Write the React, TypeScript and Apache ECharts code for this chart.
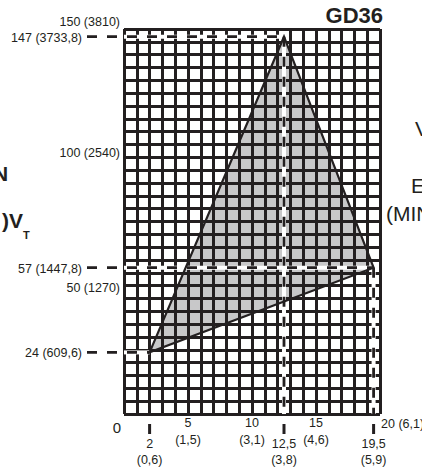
import React, { useEffect, useRef } from 'react';
import * as echarts from 'echarts';

// ---- data ----
const xMin = 0;
const xMax = 20;
const xStep = 1;
const yMin = 0;
const yMax = 150;
const yStep = 5;

const xTickValues = [5, 10, 15];
const xTickMm = ['1,5', '3,1', '4,6'];
const xEndLabel = '20 (6,1)';
const originLabel = '0';

const yTickValues = [150, 100, 50];
const yTickMm = ['3810', '2540', '1270'];

const vertexX = [2, 12.5, 19.5];
const vertexY = [24, 147, 57];
const vertexXText = ['2', '12,5', '19,5'];
const vertexXMm = ['0,6', '3,8', '5,9'];
const vertexYText = ['24', '147', '57'];
const vertexYMm = ['609,6', '3733,8', '1447,8'];

const titleText = 'GD36';

// ---- style ----
const INK = '#231f20';
const FILL = '#c8c8c9';
const FONT = '"Liberation Sans", Arial, sans-serif';
const yTickNudge = [-7, -4, 2];

function txt(x: number, y: number, text: string, align: string, size = 12.5, weight = 'normal') {
  return {
    type: 'text',
    x,
    y,
    style: {
      text,
      fill: INK,
      fontSize: size,
      fontFamily: FONT,
      fontWeight: weight,
      align,
      verticalAlign: 'middle',
    },
  };
}

export default function App() {
  const ref = useRef<HTMLDivElement>(null);
  useEffect(() => {
    if (!ref.current) return;
    const chart = echarts.init(ref.current, null, { renderer: 'svg' });
    const option: any = {
      animation: false,
      backgroundColor: '#ffffff',
      title: {
        text: titleText,
        right: 39,
        top: 4,
        padding: 0,
        textStyle: { fontSize: 22, fontWeight: 'bold', color: INK, fontFamily: FONT },
      },
      grid: { left: 124, top: 29, width: 256, height: 385 },
      xAxis: {
        type: 'value',
        min: xMin,
        max: xMax,
        interval: xStep,
        z: 3,
        axisLine: { show: false },
        axisTick: { show: false },
        axisLabel: { show: false },
        splitLine: { show: true, lineStyle: { color: INK, width: 3 } },
      },
      yAxis: {
        type: 'value',
        min: yMin,
        max: yMax,
        interval: yStep,
        z: 3,
        axisLine: { show: false },
        axisTick: { show: false },
        axisLabel: { show: false },
        splitLine: { show: true, lineStyle: { color: INK, width: 3 } },
      },
      graphic: [
        txt(-7, 173, 'N', 'left', 21, 'bold'),
        txt(23, 220, ')V', 'right', 21, 'bold'),
        txt(23, 235, 'T', 'left', 11, 'bold'),
        txt(415, 128, 'V', 'left', 21),
        txt(411, 185, 'E', 'left', 21),
        txt(386, 213, '(MIN', 'left', 21),
      ],
      series: [
        {
          type: 'custom',
          name: 'envelope-fill',
          z: 1,
          clip: false,
          data: [[0]],
          renderItem: (params: any, api: any) => {
            const points = vertexX.map((x, i) => api.coord([x, vertexY[i]]));
            return { type: 'polygon', shape: { points }, style: { fill: FILL } };
          },
        },
        {
          type: 'custom',
          name: 'guides',
          z: 5,
          clip: false,
          data: vertexX.map((x, i) => [x, vertexY[i], i]),
          renderItem: (params: any, api: any) => {
            const xv = api.value(0);
            const yv = api.value(1);
            const i = api.value(2);
            const [px, py] = api.coord([xv, yv]);
            const [gl, gb] = api.coord([xMin, yMin]);
            const children: any[] = [];
            if (yv % yStep !== 0) {
              children.push({ type: 'line', shape: { x1: gl, y1: py, x2: px, y2: py }, style: { stroke: '#fff', lineWidth: 4 } });
            }
            children.push({ type: 'line', shape: { x1: gl - 37, y1: py, x2: px, y2: py }, style: { stroke: INK, lineWidth: 2.8, lineDash: [10, 10] } });
            if (xv % xStep !== 0) {
              children.push({ type: 'line', shape: { x1: px, y1: py, x2: px, y2: gb }, style: { stroke: '#fff', lineWidth: 4 } });
              children.push({ type: 'line', shape: { x1: px, y1: py, x2: px, y2: gb }, style: { stroke: INK, lineWidth: 2.8, lineDash: [10, 10] } });
            }
            children.push({ type: 'line', shape: { x1: px, y1: gb + 10, x2: px, y2: gb + 20 }, style: { stroke: INK, lineWidth: 3 } });
            children.push(txt(gl - 42, py + 1, `${vertexYText[i]} (${vertexYMm[i]})`, 'right'));
            children.push(txt(px, gb + 30, vertexXText[i], 'center'));
            children.push(txt(px, gb + 46, `(${vertexXMm[i]})`, 'center'));
            return { type: 'group', children };
          },
        },
        {
          type: 'custom',
          name: 'outline',
          z: 6,
          clip: false,
          data: [[0]],
          renderItem: (params: any, api: any) => {
            const points = vertexX.map((x, i) => api.coord([x, vertexY[i]]));
            return {
              type: 'polygon',
              shape: { points },
              style: { fill: 'none', stroke: INK, lineWidth: 2.2, lineJoin: 'miter' },
            };
          },
        },
        {
          type: 'custom',
          name: 'x-ticks',
          z: 6,
          clip: false,
          data: xTickValues.map((v, i) => [v, i]),
          renderItem: (params: any, api: any) => {
            const i = api.value(1);
            const [px, py] = api.coord([api.value(0), yMin]);
            return {
              type: 'group',
              children: [
                txt(px, py + 9, String(xTickValues[i]), 'center'),
                txt(px, py + 26, `(${xTickMm[i]})`, 'center'),
              ],
            };
          },
        },
        {
          type: 'custom',
          name: 'y-ticks',
          z: 6,
          clip: false,
          data: yTickValues.map((v, i) => [v, i]),
          renderItem: (params: any, api: any) => {
            const i = api.value(1);
            const [px, py] = api.coord([xMin, api.value(0)]);
            return txt(px - 4, py + yTickNudge[i], `${yTickValues[i]} (${yTickMm[i]})`, 'right');
          },
        },
        {
          type: 'custom',
          name: 'ends',
          z: 6,
          clip: false,
          data: [[0]],
          renderItem: (params: any, api: any) => {
            const [ox, oy] = api.coord([xMin, yMin]);
            const [ex, ey] = api.coord([xMax, yMin]);
            return {
              type: 'group',
              children: [
                txt(ox - 7, oy + 13, originLabel, 'center', 15),
                txt(ex + 1, ey + 10, xEndLabel, 'left'),
              ],
            };
          },
        },
      ],
    };
    chart.setOption(option);
    return () => chart.dispose();
  }, []);
  return (
    <div
      ref={ref}
      style={{ position: 'absolute', left: 0, top: 0, width: 422, height: 470, background: '#fff', overflow: 'hidden' }}
    />
  );
}
